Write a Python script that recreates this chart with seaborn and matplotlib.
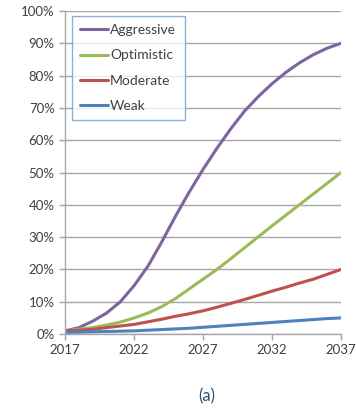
import numpy as np
import pandas as pd
import seaborn as sns
import matplotlib.pyplot as plt

years = list(range(2017, 2038))
aggressive = [1, 2, 4, 6.5, 10, 15, 21, 28.5, 36.5, 44, 51, 57.5, 63.5, 69, 73.5, 77.5, 81, 84, 86.5, 88.5, 90]
optimistic = [1, 1.5, 2, 2.8, 3.7, 5, 6.5, 8.5, 11, 14, 17, 20, 23.3, 26.7, 30.1, 33.5, 36.8, 40.1, 43.4, 46.7, 50]
moderate = [1, 1.2, 1.5, 2, 2.5, 3, 3.8, 4.6, 5.5, 6.3, 7.2, 8.3, 9.5, 10.7, 12, 13.3, 14.5, 15.8, 17, 18.5, 20]
weak = [0.5, 0.6, 0.7, 0.8, 0.9, 1.0, 1.2, 1.4, 1.6, 1.8, 2.1, 2.4, 2.7, 3.0, 3.3, 3.6, 3.9, 4.2, 4.5, 4.8, 5.0]
scenarios = ['Aggressive', 'Optimistic', 'Moderate', 'Weak']
colors = ['#8064A2', '#9BBB59', '#C0504D', '#4F81BD']

frames = []
for name, vals in zip(scenarios, [aggressive, optimistic, moderate, weak]):
    frames.append(pd.DataFrame({'Year': years, 'Share': vals, 'Scenario': name}))
df = pd.concat(frames)

sns.set_style('white')
plt.rcParams['font.family'] = ['Lato', 'DejaVu Sans']

fig = plt.figure(figsize=(3.56, 4.15), dpi=100)
ax = fig.add_axes([0.183, 0.195, 0.775, 0.7785])

sns.lineplot(data=df, x='Year', y='Share', hue='Scenario', palette=colors,
             linewidth=2.2, ax=ax)

ax.set_xlim(2017, 2037)
ax.set_ylim(0, 100)
ax.set_xticks(range(2017, 2038, 5))
ax.set_yticks(range(0, 101, 10))
ax.set_yticklabels([f'{v}%' for v in range(0, 101, 10)])
ax.set_xlabel('')
ax.set_ylabel('')
ax.grid(axis='y', color='#A6A6A6', linewidth=1.0)
ax.set_axisbelow(True)
for s in ['top', 'right']:
    ax.spines[s].set_visible(False)
for s in ['left', 'bottom']:
    ax.spines[s].set_color('#A6A6A6')
    ax.spines[s].set_linewidth(1.0)
ax.tick_params(axis='both', which='both', direction='out', length=4, width=1,
               color='#A6A6A6', labelsize=9.5, labelcolor='#404040', left=True, bottom=True)

leg = ax.legend(loc='upper left', bbox_to_anchor=(0.025, 0.985), frameon=True,
                fancybox=False, fontsize=10, handlelength=2.0, handletextpad=0.15,
                labelspacing=0.95, borderpad=0.6, borderaxespad=0)
leg.get_frame().set_edgecolor('#6E9BD1')
leg.get_frame().set_linewidth(1.0)
for t in leg.get_texts():
    t.set_color('#404040')

fig.text(0.58, 0.045, '(a)', ha='center', va='center', fontsize=12, color='#2F4F6F')

fig.savefig('out.png', dpi=100)
